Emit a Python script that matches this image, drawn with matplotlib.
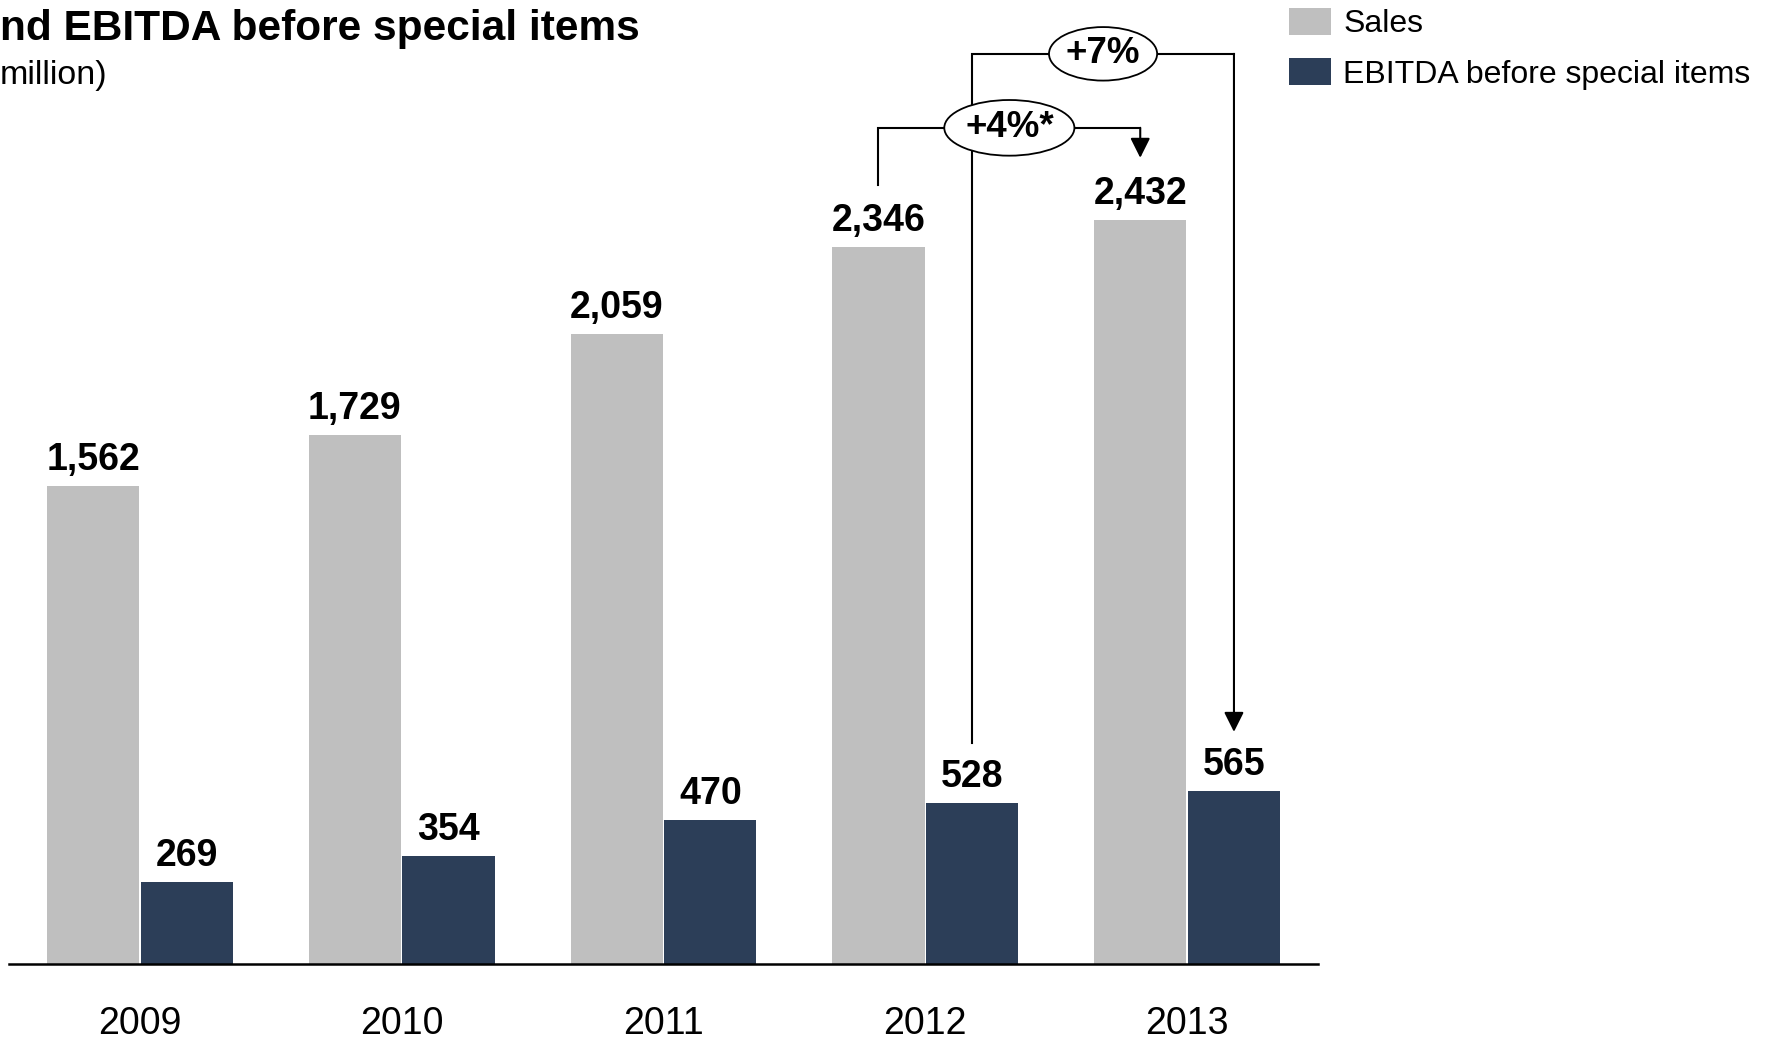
import matplotlib
matplotlib.use("Agg")
import matplotlib.pyplot as plt
from matplotlib.patches import Ellipse
import numpy as np

plt.rcParams['font.family'] = ['Liberation Sans', 'DejaVu Sans']

# values in EUR million
years = ["2009", "2010", "2011", "2012", "2013"]
sales = [1562, 1729, 2059, 2346, 2432]
ebitda = [269, 354, 470, 528, 565]

salesColor = "#bfbfbf"
ebitdaColor = "#2c3e58"

W, H = 1772, 1039
fig = plt.figure(figsize=(W / 100, H / 100), dpi=100)
# axes: baseline at y=964px, axis line from x=9px to 1318px
ax = fig.add_axes([9 / W, 75 / H, 1309 / W, 964 / H])
ax.set_xlim(-0.5, 4.5)
ax.set_ylim(0, 3152)

x = np.arange(len(years))
off = 0.179
bw = 0.352
barsS = ax.bar(x - off, sales, bw, color=salesColor, label="Sales")
barsE = ax.bar(x + off, ebitda, bw, color=ebitdaColor, label="EBITDA before special items")

for xi, v in zip(x - off, sales):
    ax.annotate(f"{v:,}", xy=(xi, v), xytext=(0, 11.5), textcoords="offset points",
                ha="center", va="baseline", fontsize=27, fontweight="bold")
for xi, v in zip(x + off, ebitda):
    ax.annotate(f"{v:,}", xy=(xi, v), xytext=(0, 11.5), textcoords="offset points",
                ha="center", va="baseline", fontsize=27, fontweight="bold")

for s in ["top", "right", "left"]:
    ax.spines[s].set_visible(False)
ax.spines["bottom"].set_linewidth(1.8)
ax.set_yticks([])
ax.set_xticks(x)
ax.set_xticklabels(years, fontsize=27)
ax.tick_params(axis="x", length=0, pad=30)


def growthBracket(x0, x1, yStart, yTop, yTip, label, ew, eh):
    # elbow line with an arrow down onto the later year, label in an ellipse
    ax.plot([x0, x0, x1], [yStart, yTop, yTop], color="black", lw=1.5,
            solid_joinstyle="miter", zorder=3, clip_on=False)
    ax.annotate("", xy=(x1, yTip), xytext=(x1, yTop),
                arrowprops=dict(arrowstyle="-|>,head_length=0.6,head_width=0.3",
                                mutation_scale=20, lw=1.5, color="black",
                                shrinkA=0, shrinkB=0), zorder=3)
    xm = (x0 + x1) / 2
    ax.add_patch(Ellipse((xm, yTop), ew, eh, facecolor="white", edgecolor="black",
                         lw=1.3, zorder=4, clip_on=False))
    ax.text(xm, yTop, label, ha="center", va="center", fontsize=26.5,
            fontweight="bold", zorder=5)


# sales growth 2012 -> 2013
growthBracket(x[3] - off, x[4] - off, 2547, 2734, 2636, "+4%*", 0.497, 182)
# EBITDA growth 2012 -> 2013
growthBracket(x[3] + off, x[4] + off, 723, 2976, 759, "+7%", 0.413, 175)

fig.text(0, 1 - 40 / H, "nd EBITDA before special items", fontsize=30.5,
         fontweight="bold", ha="left", va="baseline")
fig.text(0, 1 - 84 / H, "million)", fontsize=24.5, ha="left", va="baseline")

fig.legend(handles=[barsS, barsE], loc="upper left",
           bbox_to_anchor=(1289 / W, 1 - 8 / H), frameon=False, fontsize=23,
           borderpad=0, borderaxespad=0, handlelength=1.3, handleheight=0.9,
           handletextpad=0.4, labelspacing=0.6)

fig.savefig("out.png", dpi=100)
